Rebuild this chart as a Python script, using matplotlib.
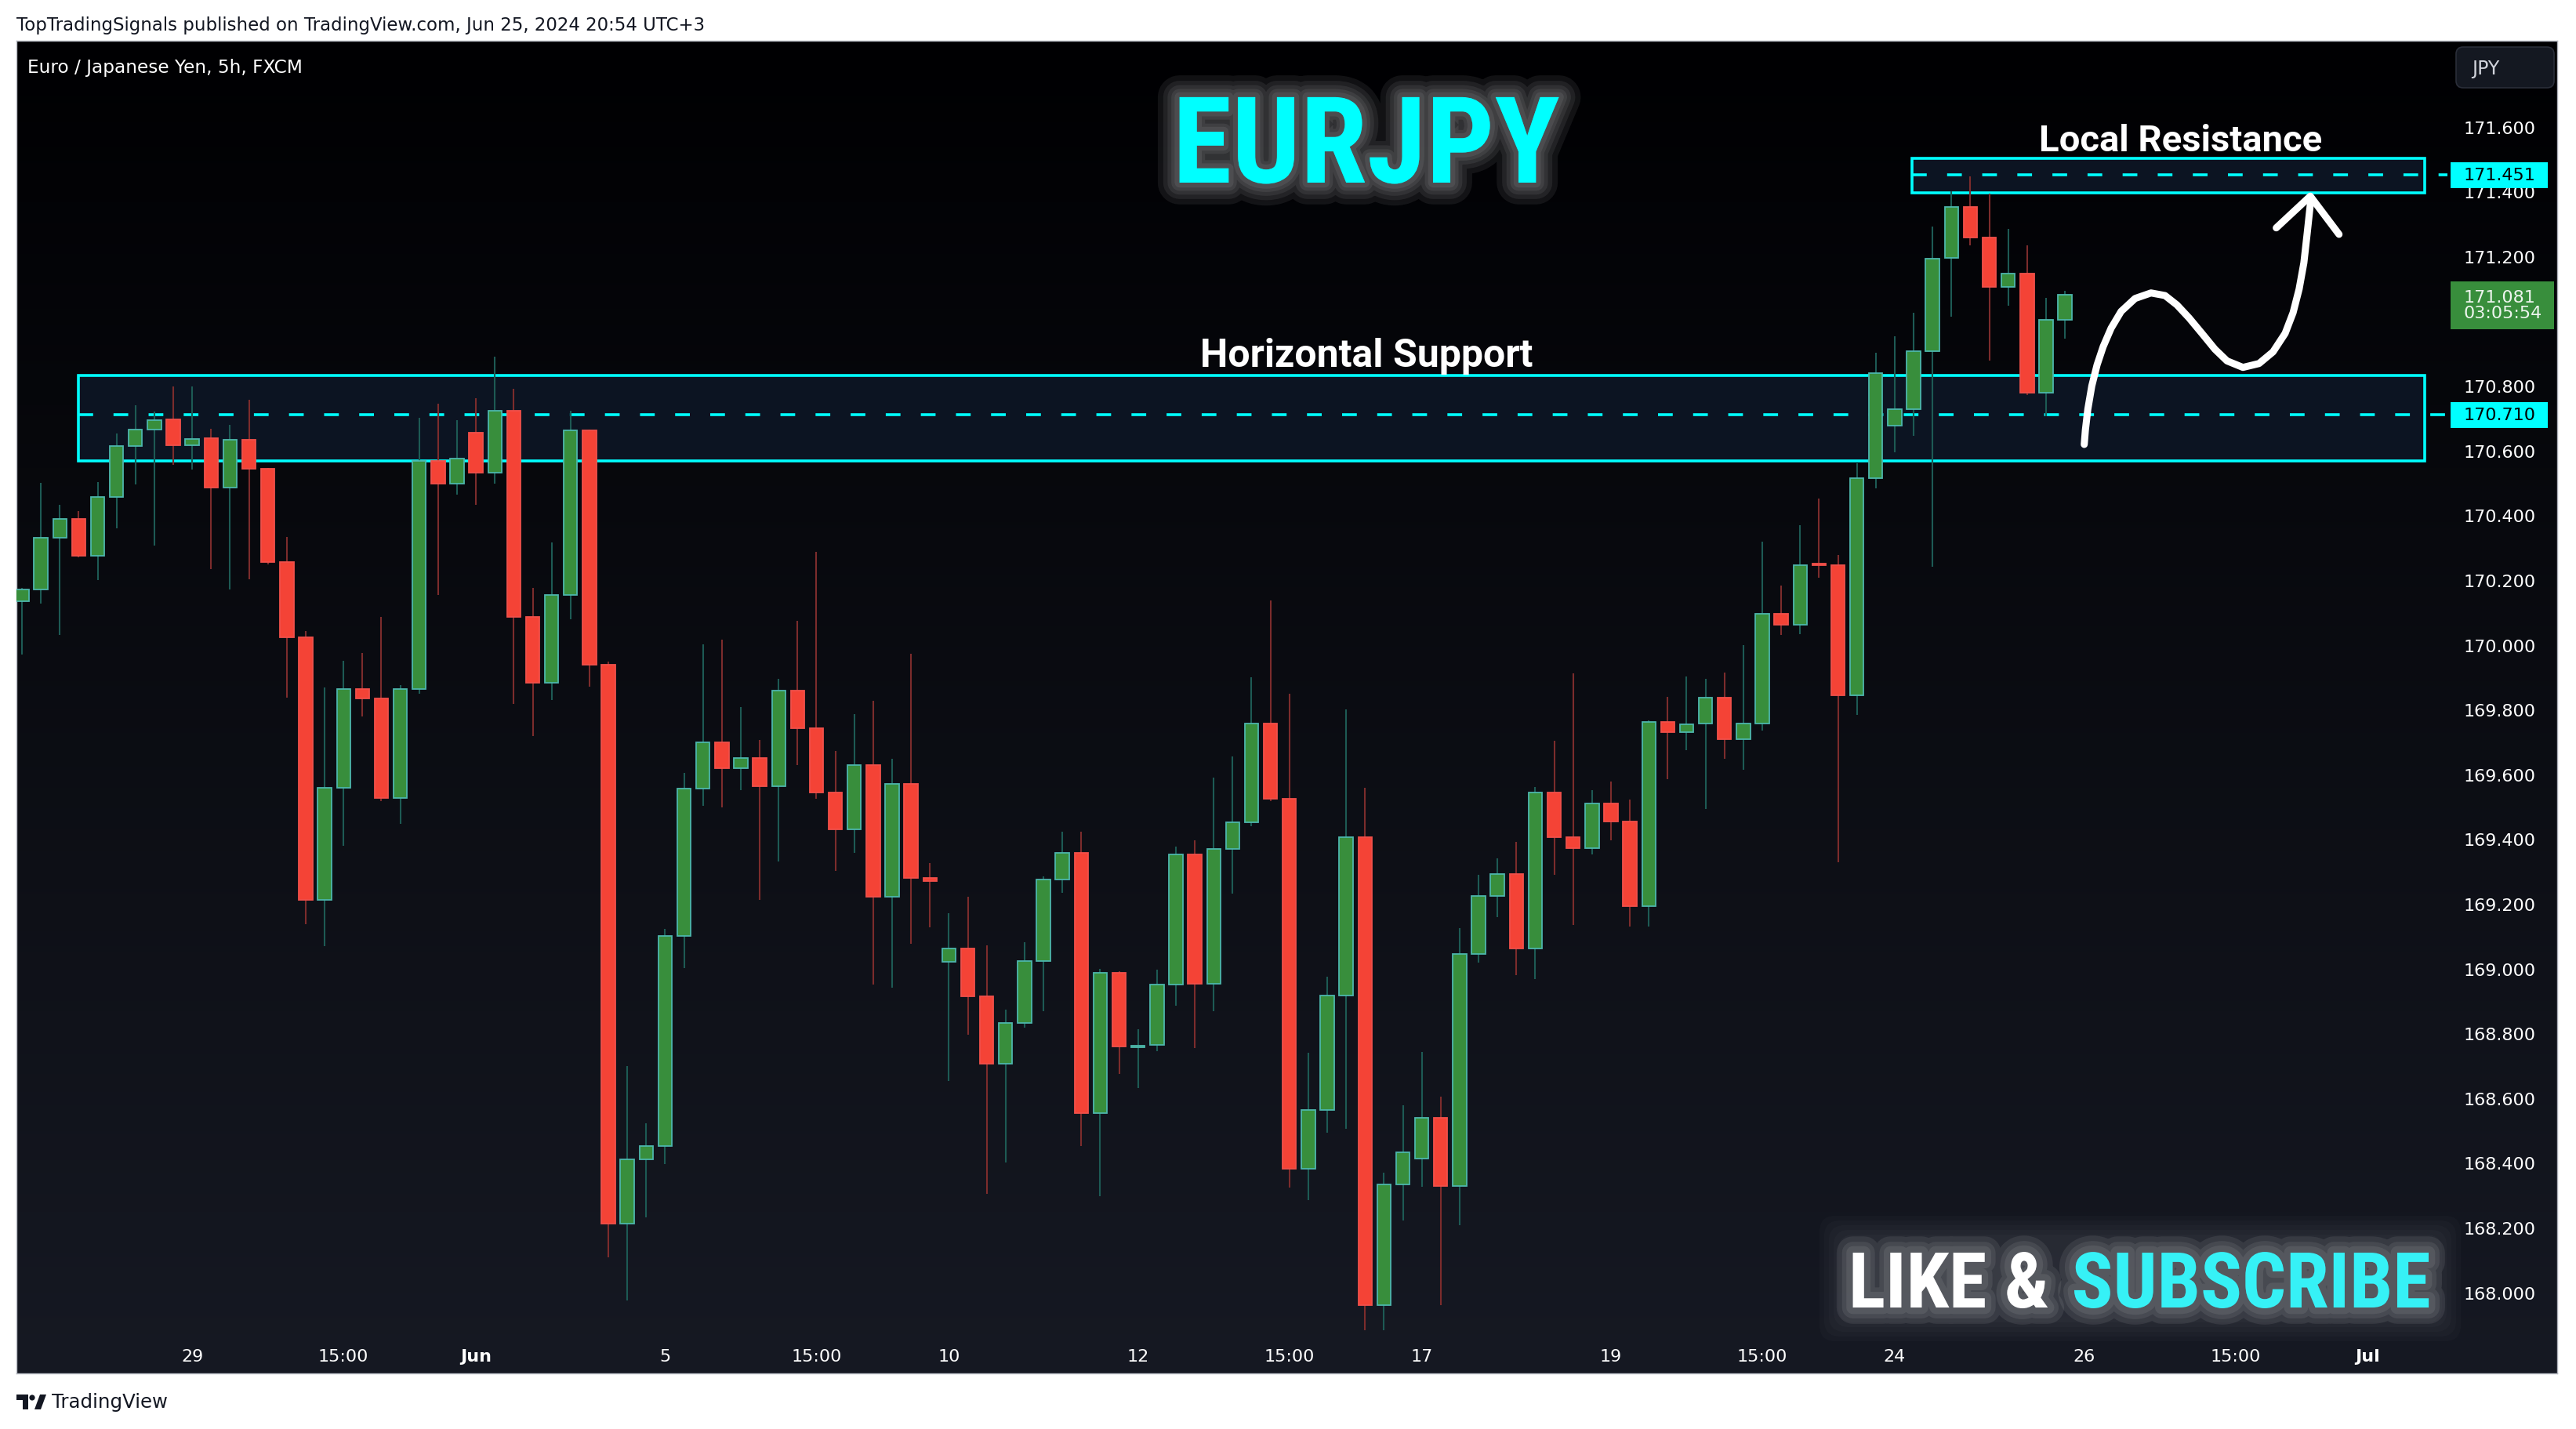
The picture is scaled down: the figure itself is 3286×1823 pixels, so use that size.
import numpy as np
import matplotlib
matplotlib.use("Agg")
import matplotlib.pyplot as plt
import matplotlib.patheffects as pe
import matplotlib.transforms as mtransforms
from matplotlib import font_manager
from matplotlib.patches import Rectangle, FancyBboxPatch, Polygon, Circle

W, H = 3286, 1824

# EURJPY 5h candles (FXCM), bar index 0 = leftmost
opens = [170.134, 170.171, 170.331, 170.388, 170.274, 170.456, 170.613, 170.664, 170.696, 170.616,
         170.638, 170.486, 170.633, 170.544, 170.256, 170.023, 169.212, 169.558, 169.863, 169.834,
         169.528, 169.863, 170.568, 170.497, 170.655, 170.532, 170.722, 170.086, 169.884, 170.154,
         170.662, 169.938, 168.211, 168.411, 168.452, 169.100, 169.556, 169.698, 169.619, 169.651,
         169.563, 169.858, 169.743, 169.543, 169.431, 169.628, 169.222, 169.570, 169.279, 169.021,
         169.062, 168.915, 168.706, 168.833, 169.023, 169.276, 169.358, 168.554, 168.986, 168.757,
         168.764, 168.950, 169.353, 168.953, 169.369, 169.451, 169.756, 169.525, 168.382, 168.564,
         168.916, 169.407, 167.961, 168.333, 168.413, 168.538, 168.328, 169.046, 169.225, 169.293,
         169.062, 169.543, 169.407, 169.372, 169.511, 169.454, 169.194, 169.761, 169.730, 169.756,
         169.838, 169.709, 169.758, 170.095, 170.062, 170.250, 170.246, 169.843, 170.514, 170.676,
         170.727, 170.907, 171.195, 171.352, 171.258, 171.105, 171.148, 170.779, 171.005]
highs = [170.175, 170.501, 170.433, 170.414, 170.503, 170.654, 170.741, 170.721, 170.799, 170.799,
         170.668, 170.680, 170.758, 170.546, 170.334, 170.043, 169.868, 169.951, 169.976, 170.087,
         169.876, 170.702, 170.746, 170.695, 170.763, 170.891, 170.791, 170.177, 170.317, 170.723,
         170.666, 169.949, 168.700, 168.521, 169.123, 169.605, 170.002, 170.017, 169.809, 169.707,
         169.894, 170.075, 170.288, 169.673, 169.787, 169.827, 169.647, 169.973, 169.327, 169.171,
         169.221, 169.072, 168.872, 169.082, 169.285, 169.423, 169.423, 169.000, 168.991, 168.813,
         168.997, 169.377, 169.397, 169.591, 169.656, 169.899, 170.138, 169.849, 168.739, 168.974,
         169.801, 169.559, 168.370, 168.578, 168.743, 168.604, 169.126, 169.289, 169.340, 169.392,
         169.562, 169.704, 169.911, 169.551, 169.579, 169.523, 169.767, 169.840, 169.903, 169.894,
         169.915, 170.000, 170.319, 170.184, 170.370, 170.453, 170.278, 170.562, 170.903, 170.952,
         171.026, 171.293, 171.402, 171.448, 171.394, 171.285, 171.235, 171.072, 171.093]
lows = [169.969, 170.127, 170.030, 170.270, 170.199, 170.361, 170.496, 170.306, 170.555, 170.542,
        170.233, 170.170, 170.203, 170.249, 169.836, 169.136, 169.069, 169.379, 169.779, 169.517,
        169.446, 169.848, 170.155, 170.465, 170.432, 170.499, 169.818, 169.718, 169.829, 170.078,
        169.870, 168.108, 167.976, 168.231, 168.396, 169.001, 169.502, 169.497, 169.551, 169.211,
        169.330, 169.628, 169.525, 169.301, 169.357, 168.950, 168.941, 169.077, 169.128, 168.652,
        168.796, 168.303, 168.401, 168.818, 168.869, 169.235, 168.452, 168.297, 168.674, 168.632,
        168.745, 168.886, 168.754, 168.869, 169.231, 169.440, 169.517, 168.323, 168.285, 168.493,
        168.506, 167.883, 167.883, 168.223, 168.327, 167.961, 168.208, 169.018, 169.160, 168.980,
        168.967, 169.289, 169.134, 169.352, 169.397, 169.131, 169.131, 169.585, 169.675, 169.494,
        169.647, 169.614, 169.735, 170.030, 170.032, 170.207, 169.328, 169.783, 170.484, 170.595,
        170.645, 170.241, 171.014, 171.235, 170.877, 171.047, 170.771, 170.706, 170.947]
closes = [170.171, 170.331, 170.388, 170.274, 170.456, 170.613, 170.664, 170.695, 170.616, 170.637,
          170.485, 170.633, 170.543, 170.255, 170.023, 169.212, 169.558, 169.863, 169.834, 169.528,
          169.863, 170.568, 170.497, 170.575, 170.532, 170.722, 170.086, 169.884, 170.154, 170.662,
          169.938, 168.211, 168.411, 168.452, 169.100, 169.556, 169.698, 169.619, 169.651, 169.563,
          169.858, 169.743, 169.543, 169.431, 169.628, 169.222, 169.570, 169.279, 169.271, 169.062,
          168.915, 168.706, 168.833, 169.023, 169.276, 169.358, 168.554, 168.986, 168.759, 168.762,
          168.950, 169.353, 168.953, 169.369, 169.451, 169.756, 169.525, 168.382, 168.564, 168.916,
          169.407, 167.961, 168.333, 168.432, 168.538, 168.328, 169.046, 169.225, 169.293, 169.062,
          169.543, 169.407, 169.372, 169.511, 169.454, 169.194, 169.761, 169.730, 169.755, 169.838,
          169.709, 169.756, 170.095, 170.062, 170.246, 170.246, 169.843, 170.514, 170.840, 170.727,
          170.907, 171.194, 171.352, 171.258, 171.105, 171.148, 170.779, 171.004, 171.081]

date_ticks = [9, 17, 24, 34, 42, 49, 59, 67, 74, 84, 92, 99, 109, 117, 124]
date_labels = ["29", "15:00", "Jun", "5", "15:00", "10", "12", "15:00", "17", "19",
               "15:00", "24", "26", "15:00", "Jul"]
# 171.000 is hidden behind the last-price label on the chart
price_ticks = [168.0, 168.2, 168.4, 168.6, 168.8, 169.0, 169.2, 169.4, 169.6, 169.8,
               170.0, 170.2, 170.4, 170.6, 170.8, 171.2, 171.4, 171.6]

support_zone = [3.0, 127.0, 170.569, 170.831]      # x0, x1, bottom, top
support_line = 170.710
resistance_zone = [99.9, 127.0, 171.397, 171.502]
resistance_line = 171.451
last_price = 171.081
bar_timer = "03:05:54"

# hand drawn projection arrow (bar index, price)
path_x = [109.02, 109.08, 109.21, 109.42, 109.70, 110.02, 110.44, 110.97, 111.71, 112.55, 113.29,
          113.92, 114.56, 115.30, 115.93, 116.57, 117.41, 118.26, 119.00, 119.64, 120.06, 120.38,
          120.63, 120.80, 120.92, 121.01]
path_y = [170.619, 170.663, 170.728, 170.800, 170.865, 170.921, 170.978, 171.030, 171.070, 171.087,
          171.079, 171.050, 171.010, 170.958, 170.913, 170.877, 170.857, 170.869, 170.905, 170.962,
          171.026, 171.099, 171.180, 171.268, 171.333, 171.381]
head_x = [119.17, 120.97, 122.49]
head_y = [171.288, 171.386, 171.268]

plt.rcParams['font.family'] = ['DejaVu Sans']
installed = {f.name for f in font_manager.fontManager.ttflist}
narrow = next((n for n in ['Roboto Condensed', 'Liberation Sans Narrow', 'DejaVu Sans'] if n in installed),
              'DejaVu Sans')
bold_font = 'Roboto' if 'Roboto' in installed else 'DejaVu Sans'

CYAN = '#00ffff'
UP, UP_EDGE, UP_WICK = '#388e3c', '#4db6ac', '#1d5a54'
DN, DN_EDGE, DN_WICK = '#f44336', '#f0504a', '#7c2c2c'


def box(x0, y0, x1, y1):
    return [x0 / W, 1 - y1 / H, (x1 - x0) / W, (y1 - y0) / H]


def glow(widths, alpha):
    return [pe.Stroke(linewidth=w, foreground='white', alpha=alpha) for w in widths] + [pe.Normal()]


fig = plt.figure(figsize=(W / 100, H / 100), dpi=100, facecolor='white')
renderer = fig.canvas.get_renderer()
pix = mtransforms.IdentityTransform()


def fit(t, width, grow=False):
    w = t.get_window_extent(renderer).width
    if w > width * 1.02 or grow:
        t.set_fontsize(t.get_fontsize() * width / w)


# dark panel with vertical gradient
bg = fig.add_axes(box(21, 53, 3262, 1753))
top = np.array([0.0, 0.0, 0.008])
bot = np.array([0.086, 0.098, 0.137])
grad = top + (bot - top) * np.linspace(0, 1, 512)[:, None, None]
bg.imshow(grad, aspect='auto', extent=[0, 1, 0, 1])
bg.set_xticks([])
bg.set_yticks([])
for s in bg.spines.values():
    s.set_color('#b2b5be')
    s.set_linewidth(1)

ax = fig.add_axes(box(21, 53, 3122, 1700))
ax.patch.set_alpha(0)
for s in ax.spines.values():
    s.set_visible(False)
ax.set_xlim(-0.29, 128.22)
ax.set_ylim(167.878, 171.866)

o = np.array(opens)
h = np.array(highs)
l = np.array(lows)
c = np.array(closes)
idx = np.arange(len(o))
up = c >= o

ax.vlines(idx[up], l[up], h[up], color=UP_WICK, lw=1.5, zorder=3)
ax.vlines(idx[~up], l[~up], h[~up], color=DN_WICK, lw=1.5, zorder=3)
body = np.maximum(np.abs(c - o), 0.006)
ax.bar(idx[up], body[up], bottom=np.minimum(o, c)[up], width=0.72, color=UP,
       edgecolor=UP_EDGE, linewidth=1.3, zorder=4)
ax.bar(idx[~up], body[~up], bottom=np.minimum(o, c)[~up], width=0.72, color=DN,
       edgecolor=DN_EDGE, linewidth=1.3, zorder=4)

# zones
for (x0, x1, b, t), mid in [(support_zone, support_line), (resistance_zone, resistance_line)]:
    ax.add_patch(Rectangle((x0, b), x1 - x0, t - b, facecolor='#0c1422', edgecolor=CYAN,
                           lw=2.6, zorder=1))
    ax.hlines(mid, x0, 128.22, colors=CYAN, linestyles=(0, (5.2, 7.2)), lw=2.6, zorder=2)

ax.plot(path_x, path_y, color='white', lw=6.5, solid_capstyle='round',
        solid_joinstyle='round', zorder=6)
ax.plot(head_x, head_y, color='white', lw=6.5, solid_capstyle='round',
        solid_joinstyle='round', zorder=6)

t = ax.text(71.07, 170.8615, 'Horizontal Support', ha='center', va='baseline', fontsize=36,
            color='white', family=bold_font, weight='bold', zorder=7)
fit(t, 421)
t = ax.text(114.13, 171.527, 'Local Resistance', ha='center', va='baseline', fontsize=34,
            color='white', family=bold_font, weight='bold', zorder=7)
fit(t, 375)

# axes labels
ax.yaxis.tick_right()
ax.set_yticks(price_ticks)
ax.set_yticklabels([f'{v:.3f}' for v in price_ticks])
ax.set_xticks(date_ticks)
ax.set_xticklabels(date_labels)
ax.tick_params(axis='y', length=0, pad=15, labelsize=16, labelcolor='white')
ax.tick_params(axis='x', length=0, pad=15, labelsize=16, labelcolor='white')
for lab in ax.get_xticklabels():
    if lab.get_text() in ('Jun', 'Jul'):
        lab.set_fontweight('bold')

# price scale labels
trans = mtransforms.blended_transform_factory(pix, ax.transData)
for p in (resistance_line, support_line):
    ax.add_patch(Rectangle((3126, p - 0.04), 124, 0.08, transform=trans, facecolor=CYAN,
                           edgecolor='none', clip_on=False, zorder=8))
    ax.text(3143, p, f'{p:.3f}', transform=trans, ha='left', va='center', fontsize=16,
            color='black', clip_on=False, zorder=9)
ax.add_patch(Rectangle((3126, 170.974), 132, 0.149, transform=trans, facecolor='#388e3c',
                       edgecolor='none', clip_on=False, zorder=8))
ax.text(3143, 171.050, f'{last_price:.3f}\n{bar_timer}', transform=trans, ha='left', va='center',
        fontsize=16, color='#eef5ee', linespacing=1.05, clip_on=False, zorder=9)

# currency button
fig.add_artist(FancyBboxPatch((3133, H - 113), 125, 52, boxstyle='round,pad=0,rounding_size=9',
                              transform=pix, facecolor='#141821', edgecolor='#2a2e39', lw=1.2))
fig.text(3153, H - 88, 'JPY', transform=pix, ha='left', va='center', fontsize=17, color='#d1d4dc')

# title
t = fig.text(1743, H - 234, 'EURJPY', transform=pix, ha='center', va='baseline', fontsize=117,
             color=CYAN, family=narrow, weight='bold', stretch='condensed',
             path_effects=glow([40, 30, 22, 15, 9], 0.07))
fit(t, 494)

# like & subscribe banner
for k in range(5):
    fig.add_artist(FancyBboxPatch((2345 - 6 * k, H - 1688 - 6 * k), 770 + 12 * k, 112 + 12 * k,
                                  boxstyle='round,pad=0,rounding_size=20', transform=pix,
                                  facecolor='white', edgecolor='none', alpha=0.018))
t1 = fig.text(2358, H - 1669, 'LIKE &', transform=pix, ha='left', va='baseline', fontsize=77,
              color='white', family=narrow, weight='bold', stretch='condensed',
              path_effects=glow([30, 20, 12], 0.08))
t2 = fig.text(2636, H - 1669, 'SUBSCRIBE', transform=pix, ha='left', va='baseline', fontsize=77,
              color='#36f1f6', family=narrow, weight='bold', stretch='condensed',
              path_effects=glow([30, 20, 12], 0.08))
w1 = t1.get_window_extent(renderer).width
w2 = t2.get_window_extent(renderer).width
scale = min(1.0, 743 / (w1 + 31 + w2))
t1.set_fontsize(77 * scale)
t2.set_fontsize(77 * scale)
t2.set_x(2358 + w1 * scale + 31 * scale)

# header / footer
t = fig.text(21, H - 33, 'TopTradingSignals published on TradingView.com, Jun 25, 2024 20:54 UTC+3',
             transform=pix, ha='left', va='center', fontsize=15, color='#131722')
fit(t, 880, grow=True)
t = fig.text(35, H - 87, 'Euro / Japanese Yen, 5h, FXCM', transform=pix, ha='left', va='center',
             fontsize=15, color='white')
fit(t, 352, grow=True)
fig.add_artist(Polygon([(21, H - 1780), (36, H - 1780), (36, H - 1799), (29, H - 1799),
                        (29, H - 1787), (21, H - 1787)], closed=True, transform=pix,
                       facecolor='#131722', edgecolor='none'))
fig.add_artist(Circle((41, H - 1784), 3.6, transform=pix, facecolor='#131722', edgecolor='none'))
fig.add_artist(Polygon([(44, H - 1799), (51, H - 1780), (59, H - 1780), (52, H - 1799)],
                       closed=True, transform=pix, facecolor='#131722', edgecolor='none'))
t = fig.text(66, H - 1789, 'TradingView', transform=pix, ha='left', va='center', fontsize=15,
             color='#131722')
fit(t, 148, grow=True)

fig.savefig('out.png', dpi=100, facecolor='white')
